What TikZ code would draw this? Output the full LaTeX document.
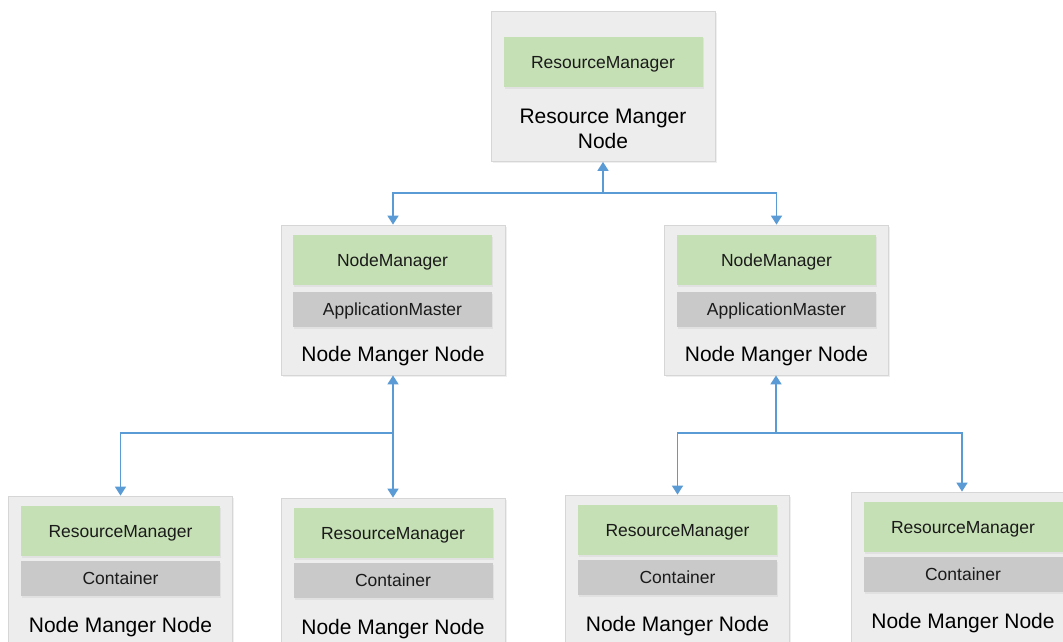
\documentclass[tikz,border=0pt]{standalone}
\usepackage{fontspec}
\setmainfont{Liberation Sans}
\usetikzlibrary{arrows.meta,shadows}
\definecolor{hostfill}{HTML}{EDEDED}
\definecolor{hostline}{HTML}{D6D6D6}
\definecolor{mgrfill}{HTML}{C5E0B4}
\definecolor{subfill}{HTML}{C9C9C9}
\definecolor{linkblue}{HTML}{5B9BD5}
\definecolor{ink}{HTML}{1A1A1A}
\tikzset{
  host/.style={draw=hostline, line width=0.8pt, fill=hostfill, minimum width=224pt, minimum height=150pt, inner sep=0pt,
    drop shadow={opacity=0.12, shadow xshift=1.5pt, shadow yshift=-1.5pt}},
  mgr/.style={fill=mgrfill, minimum width=199pt, minimum height=50pt, inner sep=0pt, text=ink,
    font=\fontsize{17.5}{20}\selectfont, text height=12.5pt, text depth=0pt,
    drop shadow={opacity=0.10, shadow xshift=1pt, shadow yshift=-1.5pt}},
  sub/.style={fill=subfill, minimum width=199pt, minimum height=35pt, inner sep=0pt, text=ink,
    font=\fontsize{17.5}{20}\selectfont, text height=12.5pt, text depth=0pt,
    drop shadow={opacity=0.10, shadow xshift=1pt, shadow yshift=-1.5pt}},
  caption/.style={text=black, font=\fontsize{21}{25}\selectfont, align=center, inner sep=0pt},
  caption1/.style={caption, text height=15pt, text depth=0pt},
  link/.style={draw=linkblue, line width=1.7pt, -{Triangle[length=9pt,width=11pt]}},
}
\begin{document}
\begin{tikzpicture}[x=1pt,y=-1pt]
\useasboundingbox (0,0) rectangle (1063,642);
\clip (0,0) rectangle (1063,642);
\fill[white] (0,0) rectangle (1063,642);

% resource manager host
\node[host] (rmhost) at (603,86.5) {};
\node[mgr] (rm) at (603,62) {ResourceManager};
\node[caption] (rmcap) at (603,128.5) {Resource Manger\\Node};

% node manager hosts, middle row
\node[host] (nmL) at (393,300) {};
\node[mgr] (nmLmgr) at (392.5,260) {NodeManager};
\node[sub] (nmLam) at (392.5,309.5) {ApplicationMaster};
\node[caption1] (nmLcap) at (393,354) {Node Manger Node};

\node[host] (nmR) at (776.5,300) {};
\node[mgr] (nmRmgr) at (776.5,260) {NodeManager};
\node[sub] (nmRam) at (776.5,309.5) {ApplicationMaster};
\node[caption1] (nmRcap) at (776.5,354) {Node Manger Node};

% worker hosts, bottom row
\foreach \n/\x/\t in {w1/120.5/496, w2/393/498, w3/677.5/495, w4/963/492}{
  \node[host] (\n) at (\x,\t+75) {};
  \node[mgr] (\n mgr) at (\x,\t+35) {ResourceManager};
  \node[sub] (\n box) at (\x,\t+82.5) {Container};
  \node[caption1] (\n cap) at (\x,\t+128.5) {Node Manger Node};
}

% junctions
\coordinate (jtop) at (603,193);
\coordinate (jL) at (393,433);
\coordinate (jR) at (776,433);

% connectors
\draw[link] (jtop) -- (rmhost.south);
\draw[link] (jtop) -| (nmL.north);
\draw[link] (jtop) -| (nmR.north);

\draw[link] (jL) -- (nmL.south);
\draw[link] (jL) -| (w1.north);
\draw[link] (jL) -- (w2.north);

\draw[link] (jR) -- (nmR.south -| jR);
\draw[link] (jR) -| (w3.north);
\draw[link] (jR) -| ([xshift=-1pt]w4.north);
\end{tikzpicture}
\end{document}
